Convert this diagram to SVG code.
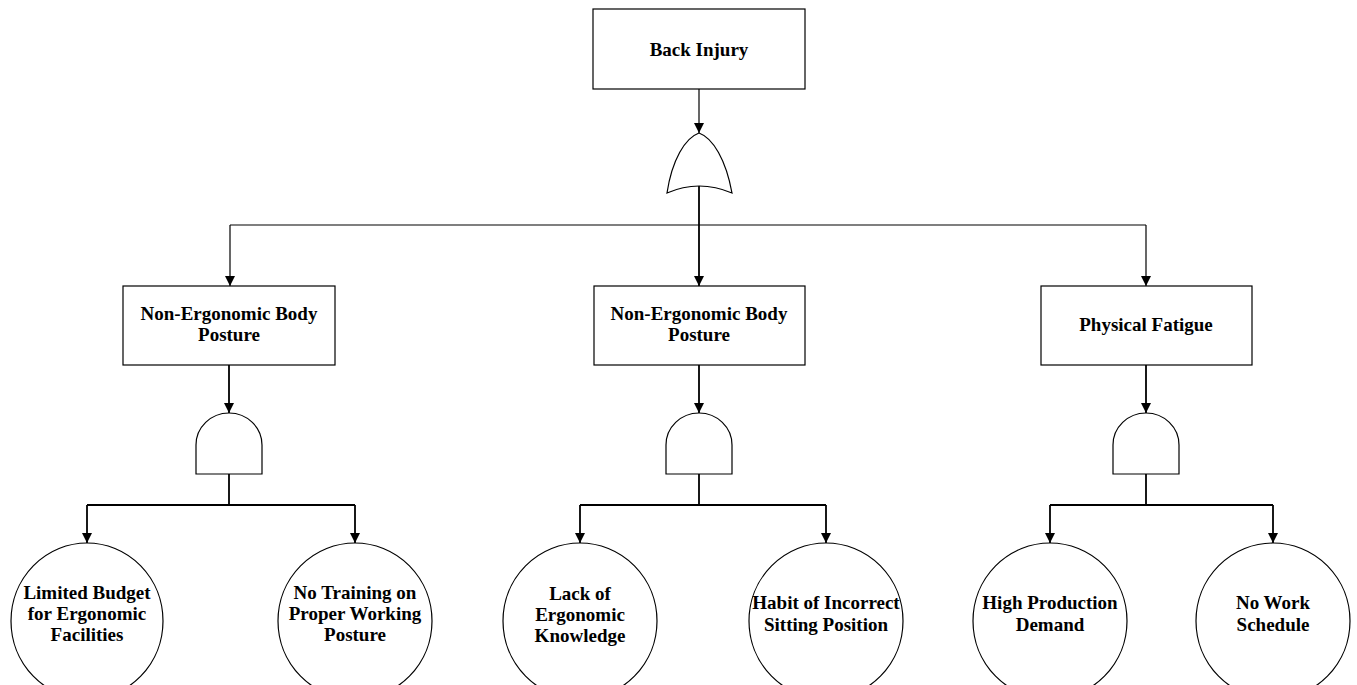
<svg xmlns="http://www.w3.org/2000/svg" width="1357" height="685" viewBox="0 0 1357 685">
<defs>
<marker id="ah" viewBox="0 0 10 10" refX="10" refY="5" markerWidth="10" markerHeight="10" markerUnits="userSpaceOnUse" orient="auto">
<path d="M0,0 L10,5 L0,10 Z" fill="#000"/>
</marker>
<style>
.box{fill:#fff;stroke:#000;stroke-width:1.2}
.gate{fill:#fff;stroke:#000;stroke-width:1.2}
.ev{fill:#fff;stroke:#000;stroke-width:1.2}
.ln{fill:none;stroke:#000;stroke-width:1.2}
.lt{fill:none;stroke:#000;stroke-width:1.8}
.t{font-family:"Liberation Serif","Times New Roman",serif;font-weight:bold;font-size:19px;text-anchor:middle;fill:#000}
</style>
</defs>
<rect width="1357" height="685" fill="#fff"/>
<g id="connectors">
<line class="ln" x1="699" y1="89" x2="699" y2="133" marker-end="url(#ah)"/>
<polyline class="ln" points="230,225 1146,225"/>
<line class="lt" x1="699" y1="186" x2="699" y2="286" marker-end="url(#ah)"/>
<line class="ln" x1="230" y1="225" x2="230" y2="286" marker-end="url(#ah)"/>
<line class="ln" x1="1146" y1="225" x2="1146" y2="286" marker-end="url(#ah)"/>
<line class="lt" x1="229" y1="365" x2="229" y2="413" marker-end="url(#ah)"/>
<line class="lt" x1="699" y1="365" x2="699" y2="413" marker-end="url(#ah)"/>
<line class="lt" x1="1146" y1="365" x2="1146" y2="413" marker-end="url(#ah)"/>
<line class="lt" x1="229" y1="474" x2="229" y2="505"/>
<polyline class="lt" points="87,505 355,505"/>
<line class="lt" x1="87" y1="505" x2="87" y2="543" marker-end="url(#ah)"/>
<line class="lt" x1="355" y1="505" x2="355" y2="543" marker-end="url(#ah)"/>
<line class="lt" x1="699" y1="474" x2="699" y2="505"/>
<polyline class="lt" points="580,505 826,505"/>
<line class="lt" x1="580" y1="505" x2="580" y2="543" marker-end="url(#ah)"/>
<line class="lt" x1="826" y1="505" x2="826" y2="543" marker-end="url(#ah)"/>
<line class="lt" x1="1146" y1="474" x2="1146" y2="505"/>
<polyline class="lt" points="1050,505 1273,505"/>
<line class="lt" x1="1050" y1="505" x2="1050" y2="543" marker-end="url(#ah)"/>
<line class="lt" x1="1273" y1="505" x2="1273" y2="543" marker-end="url(#ah)"/>
</g>
<g id="top">
<rect class="box" x="593" y="9" width="212" height="80"/>
<text class="t" x="699" y="56">Back Injury</text>
</g>
<g id="or-gate">
<path class="gate" d="M667,193 C672,160 685,138 699,133 C713,138 726,160 732,193 Q699,179 667,193 Z"/>
</g>
<g id="box-left">
<rect class="box" x="123" y="286" width="212" height="79"/>
<text class="t" x="229" y="320">Non-Ergonomic Body</text>
<text class="t" x="229" y="341">Posture</text>
</g>
<g id="box-mid">
<rect class="box" x="594" y="286" width="211" height="79"/>
<text class="t" x="699" y="320">Non-Ergonomic Body</text>
<text class="t" x="699" y="341">Posture</text>
</g>
<g id="box-right">
<rect class="box" x="1041" y="286" width="211" height="79"/>
<text class="t" x="1146" y="331">Physical Fatigue</text>
</g>
<g id="and-left">
<path class="gate" d="M196,474 L196,445 A33,32 0 0 1 262,445 L262,474 Z"/>
</g>
<g id="and-mid">
<path class="gate" d="M666,474 L666,445 A33,32 0 0 1 732,445 L732,474 Z"/>
</g>
<g id="and-right">
<path class="gate" d="M1113,474 L1113,445 A33,32 0 0 1 1179,445 L1179,474 Z"/>
</g>
<g id="ev1">
<ellipse class="ev" cx="87" cy="621" rx="76" ry="78"/>
<text class="t" x="87" y="599">Limited Budget</text>
<text class="t" x="87" y="620">for Ergonomic</text>
<text class="t" x="87" y="641">Facilities</text>
</g>
<g id="ev2">
<ellipse class="ev" cx="355" cy="621" rx="77" ry="78"/>
<text class="t" x="355" y="599">No Training on</text>
<text class="t" x="355" y="620">Proper Working</text>
<text class="t" x="355" y="641">Posture</text>
</g>
<g id="ev3">
<ellipse class="ev" cx="580" cy="621" rx="77" ry="78"/>
<text class="t" x="580" y="600">Lack of</text>
<text class="t" x="580" y="621">Ergonomic</text>
<text class="t" x="580" y="642">Knowledge</text>
</g>
<g id="ev4">
<ellipse class="ev" cx="826" cy="621" rx="77" ry="78"/>
<text class="t" x="826" y="609">Habit of Incorrect</text>
<text class="t" x="826" y="631">Sitting Position</text>
</g>
<g id="ev5">
<ellipse class="ev" cx="1050" cy="621" rx="77" ry="78"/>
<text class="t" x="1050" y="609">High Production</text>
<text class="t" x="1050" y="631">Demand</text>
</g>
<g id="ev6">
<ellipse class="ev" cx="1273" cy="621" rx="77" ry="78"/>
<text class="t" x="1273" y="609">No Work</text>
<text class="t" x="1273" y="631">Schedule</text>
</g>
</svg>
